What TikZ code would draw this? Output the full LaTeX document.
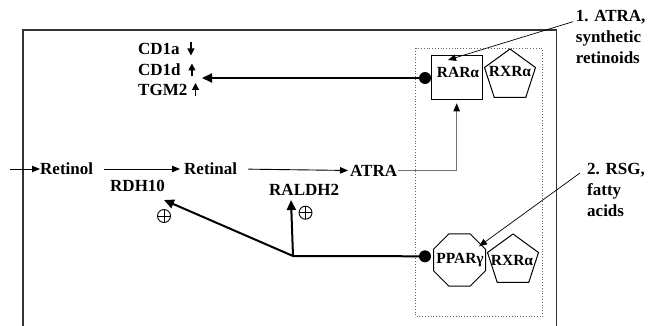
\documentclass[tikz,border=0pt]{standalone}
\usepackage{fontspec}
\setmainfont{Liberation Serif}
\usetikzlibrary{arrows.meta,shapes.geometric}
\begin{document}
\begin{tikzpicture}[x=1pt,y=-1pt,
  lbl/.style={font=\fontsize{17}{21}\selectfont\bfseries, inner sep=0pt},
  intxt/.style={font=\fontsize{15.5}{17}\selectfont\bfseries, inner sep=0pt},
  thinarrow/.style={line width=0.9pt, -{Triangle[length=8pt,width=6.5pt]}},
  thickarrow/.style={line width=2pt, -{Triangle[length=10pt,width=9pt]}},
  smallarrow/.style={line width=1.2pt, -{Triangle[length=7pt,width=7pt]}},
  dotnode/.style={circle, fill, inner sep=0pt, minimum size=12pt},
  plusnode/.style={circle, draw, line width=0.9pt, inner sep=0pt, minimum size=13pt,
    path picture={\draw[line width=0.9pt] (path picture bounding box.north) -- (path picture bounding box.south)
      (path picture bounding box.west) -- (path picture bounding box.east);}},
  pent/.style={regular polygon, regular polygon sides=5, draw, line width=1pt, inner sep=0pt, minimum size=53.6pt},
  octo/.style={regular polygon, regular polygon sides=8, draw, line width=1pt, inner sep=0pt, minimum size=56.3pt},
]
\useasboundingbox (0,0) rectangle (650,326);
% outer cell box
\draw[line width=1.2pt, black!80] (23,330) -- (23,30) -- (556.5,30) -- (556.5,330);
% dotted nuclear box
\draw[dotted, line width=0.8pt, black!60] (415.7,48.3) rectangle (542.7,316.3);

% receptors
\node[draw, line width=1pt, minimum width=51pt, minimum height=44pt, inner sep=0pt] (rar) at (456.7,77.8) {};
\node[pent] (rxr1) at (510,75.8) {};
\node[octo] (ppar) at (459.5,260) {};
\node[pent] (rxr2) at (513,260.8) {};
\node[intxt] (rartxt) at (458,72) {RARα};
\node[intxt] (rxr1txt) at (510,72) {RXRα};
\node[intxt] (ppartxt) at (460,260) {PPARγ};
\node[intxt] (rxr2txt) at (512,260) {RXRα};
\node[dotnode] (dot1) at (425,78) {};
\node[dotnode] (dot2) at (425,256.3) {};

% pathway texts
\node[lbl, anchor=west] (retinol) at (40,169) {Retinol};
\node[lbl, anchor=west] (retinal) at (184,169) {Retinal};
\node[lbl, anchor=west] (atra) at (350,170.5) {ATRA};
\node[lbl, anchor=west] (rdh) at (110,185.5) {RDH10};
\node[lbl, anchor=west] (raldh) at (269,189.5) {RALDH2};
\node[lbl, anchor=west] (cd1a) at (138,49) {CD1a};
\node[lbl, anchor=west] (cd1d) at (138,70) {CD1d};
\node[lbl, anchor=west] (tgm) at (138,89.5) {TGM2};
\node[plusnode] (plus1) at (164,216) {};
\node[plusnode] (plus2) at (305.5,212.7) {};

% right labels
\node[lbl, anchor=west, align=left] (lab1) at (575.7,36.7) {1. ATRA,\\synthetic\\retinoids};
\node[lbl, anchor=west, align=left] (lab2) at (587,190) {2. RSG,\\fatty\\acids};

% coordinates
\coordinate (in) at (10,169);
\coordinate (genes) at (202,78);
\coordinate (branch) at (293,256);
\coordinate (rdhtip) at (164,200);
\coordinate (raldhtip) at (291,200);
\coordinate (a1s) at (573,21.7);
\coordinate (a1e) at (448,60);
\coordinate (a2s) at (580,173);
\coordinate (a2e) at (479,246.3);

% metabolic arrows
\draw[thinarrow] (in) -- (retinol.west);
\draw[thinarrow, shorten <=11pt, shorten >=4pt] (retinol.east) -- (retinal.west);
\draw[thinarrow, shorten <=11pt, shorten >=2pt] (retinal.east) -- (atra.west);
\draw[line width=0.8pt, black!55, shorten <=1pt, shorten >=3pt, -{Triangle[length=8pt,width=6.5pt,fill=black,color=black]}] (atra.east) -| (rar.south);

% receptor outputs
\draw[thickarrow] (dot1) -- (genes);
\draw[line width=2pt] (dot2) -- (branch);
\draw[thickarrow] (branch) -- (rdhtip);
\draw[thickarrow] (branch) -- (raldhtip);

% gene regulation small arrows
\draw[smallarrow] ([xshift=11pt,yshift=6.5pt]cd1a.east) -- ([xshift=11pt,yshift=-6.5pt]cd1a.east);
\draw[smallarrow] ([xshift=11pt,yshift=-6.5pt]cd1d.east) -- ([xshift=11pt,yshift=6.5pt]cd1d.east);
\draw[smallarrow] ([xshift=8pt,yshift=-6.5pt]tgm.east) -- ([xshift=8pt,yshift=6.5pt]tgm.east);

% ligand arrows
\draw[line width=0.7pt, -{Triangle[length=8pt,width=6.5pt]}] (a1s) -- (a1e);
\draw[line width=0.7pt, -{Triangle[length=8pt,width=6.5pt]}] (a2s) -- (a2e);
\end{tikzpicture}
\end{document}
